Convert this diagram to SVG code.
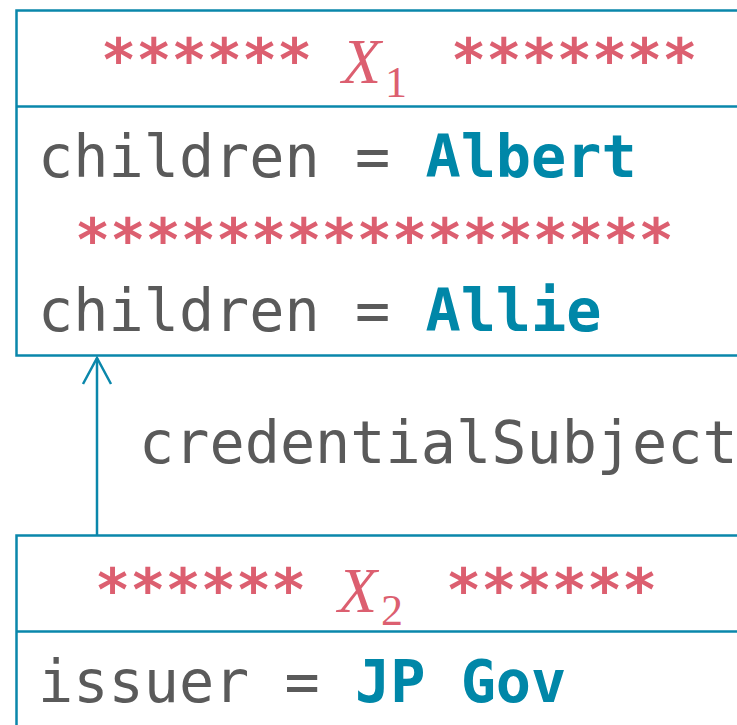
<svg xmlns="http://www.w3.org/2000/svg" width="737" height="725" viewBox="0 0 737 725">
  <style>
    .box { fill: #ffffff; stroke: #0a87ab; stroke-width: 2.5; }
    .rule { stroke: #0a87ab; stroke-width: 2.5; }
    .mono { font-family: "DejaVu Sans Mono", "Liberation Mono", monospace; font-size: 58.5px; }
    .key { fill: #5a5a5a; }
    .val { fill: #0087a8; font-weight: bold; }
    .stars { fill: #dc5f70; font-weight: bold; }
    .math { font-family: "Liberation Serif", "DejaVu Serif", serif; fill: #dc5f70; }
    .conn { stroke: #0a87ab; stroke-width: 2.5; fill: none; }
  </style>
  <defs>
    <!-- open chevron arrowhead, tip at the end of the line -->
    <marker id="open-arrow" markerUnits="userSpaceOnUse" markerWidth="30" markerHeight="32" refX="28" refY="15" orient="auto" viewBox="0 0 30 30">
      <path d="M2,1 L28,15 L2,29" fill="none" stroke="#0a87ab" stroke-width="2.5"/>
    </marker>
  </defs>

  <!-- node: X1 -->
  <g id="node-x1">
    <rect class="box" x="16.5" y="10.5" width="740" height="345"/>
    <line class="rule" x1="16.5" y1="106.5" x2="760" y2="106.5"/>
    <text class="mono stars" x="101" y="80">******</text>
    <text class="math" x="342" y="83" font-size="64" font-style="italic">X</text>
    <text class="math" x="385" y="97" font-size="44">1</text>
    <text class="mono stars" x="451" y="80">*******</text>
    <text class="mono key" x="38" y="177">children = <tspan class="val">Albert</tspan></text>
    <text class="mono stars" x="75" y="260">*****************</text>
    <text class="mono key" x="38" y="331">children = <tspan class="val">Allie</tspan></text>
  </g>

  <!-- node: X2 -->
  <g id="node-x2">
    <rect class="box" x="16.5" y="535.5" width="740" height="220"/>
    <line class="rule" x1="16.5" y1="631.5" x2="760" y2="631.5"/>
    <text class="mono stars" x="95" y="610">******</text>
    <text class="math" x="338" y="612" font-size="64" font-style="italic">X</text>
    <text class="math" x="381" y="625" font-size="44">2</text>
    <text class="mono stars" x="446" y="610">******</text>
    <text class="mono key" x="38" y="702">issuer = <tspan class="val">JP Gov</tspan></text>
  </g>

  <!-- connectors -->
  <g id="connectors">
    <line class="conn" x1="97" y1="535" x2="97" y2="358" marker-end="url(#open-arrow)"/>
    <text class="mono key" x="139" y="463">credentialSubject</text>
  </g>
</svg>
